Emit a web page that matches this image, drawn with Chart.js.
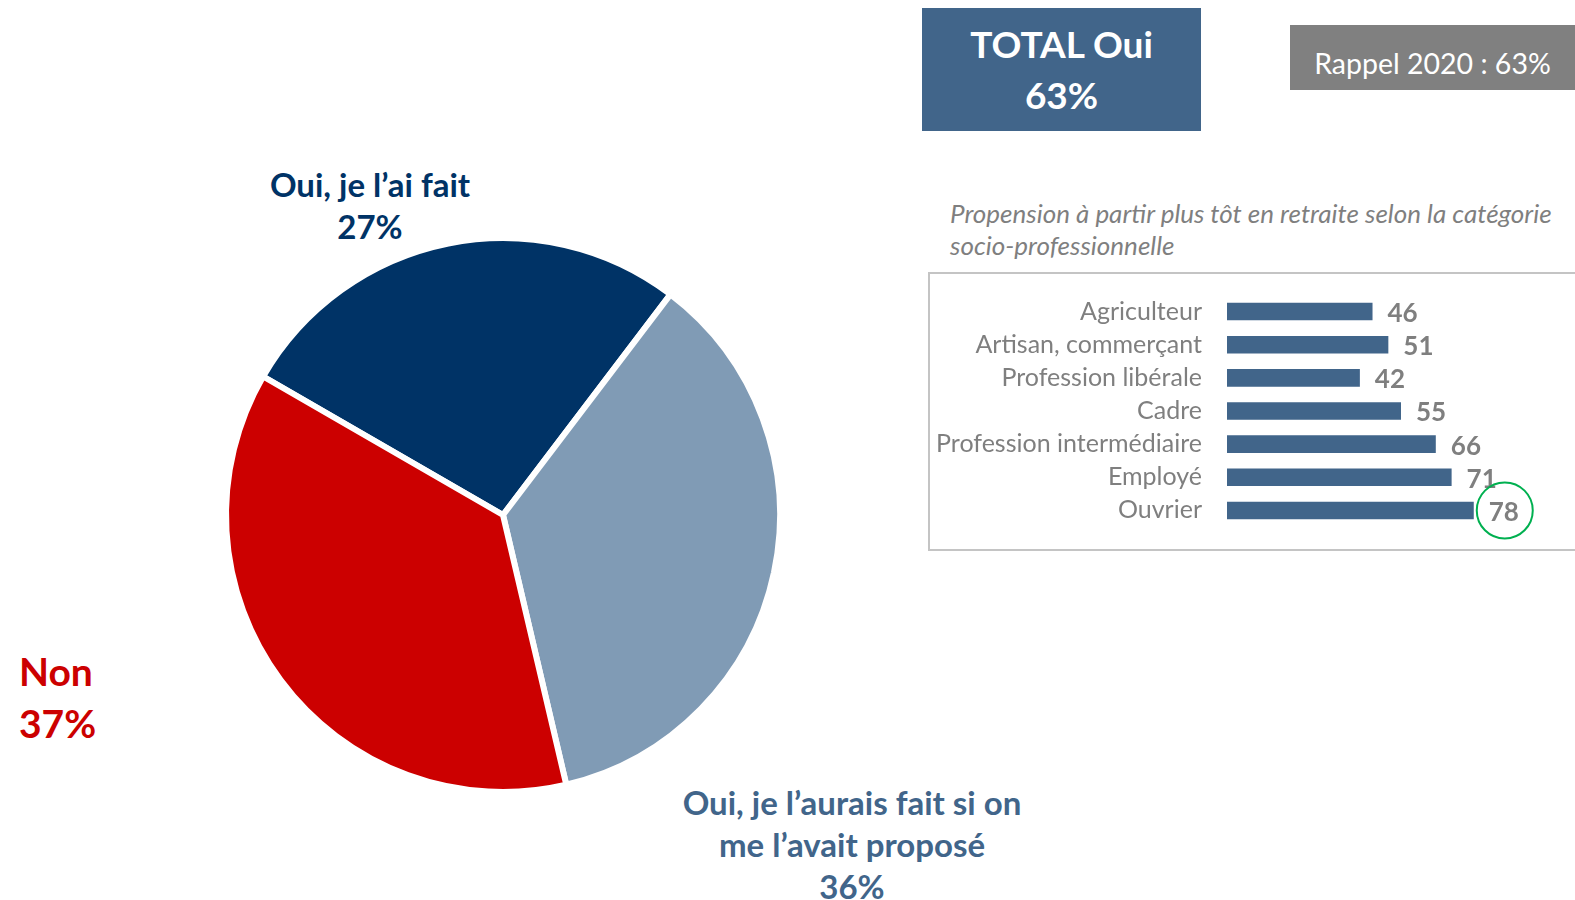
<!DOCTYPE html>
<html>
<head>
<meta charset="utf-8">
<script src="https://cdn.jsdelivr.net/npm/chart.js@4.4.0/dist/chart.umd.min.js"></script>
<style>
  body { margin: 0; width: 1575px; height: 900px; overflow: hidden; background: #fff; position: relative; font-family: Lato, sans-serif; }
  .abs { position: absolute; }
  .lbl { font-weight: bold; white-space: nowrap; }
  #total { left: 922px; top: 8px; width: 279px; height: 123px; background: #41658a; color: #fff;
           font-weight: bold; font-size: 37px; line-height: 51px; text-align: center; padding-top: 10px; box-sizing: border-box; }
  #rappel { left: 1290px; top: 25px; width: 285px; height: 65px; background: #808080; color: #fff;
            font-size: 28.5px; line-height: 76px; text-align: center; overflow: hidden; }
  #titre { left: 950px; top: 197px; color: #7f7f7f; font-style: italic; font-size: 26px; line-height: 32px; white-space: nowrap; }
  #cadre { left: 928px; top: 272px; width: 700px; height: 275px; border: 2px solid #c4c4c4; }
</style>
</head>
<body>

<div class="abs" id="total">TOTAL Oui<br>63%</div>
<div class="abs" id="rappel">Rappel 2020 : 63%</div>
<div class="abs" id="titre">Propension à partir plus tôt en retraite selon la catégorie<br>socio-professionnelle</div>
<div class="abs" id="cadre"></div>

<div class="abs lbl" style="left:220px;top:163px;width:300px;text-align:center;color:#003366;font-size:33px;line-height:42px;">Oui, je l’ai fait<br>27%</div>
<div class="abs lbl" style="left:19px;top:645px;color:#cc0000;font-size:39px;line-height:52px;">Non<br>37%</div>
<div class="abs lbl" style="left:652px;top:781px;width:400px;text-align:center;color:#41658a;font-size:33px;line-height:42px;">Oui, je l’aurais fait si on<br>me l’avait proposé<br>36%</div>

<canvas class="abs" id="pie" width="600" height="600" style="left:203px;top:215px;"></canvas>
<canvas class="abs" id="bars" width="645" height="277" style="left:930px;top:273px;"></canvas>

<script>
// camembert
var pieLabels = ['Oui, je l’ai fait', 'Oui, je l’aurais fait si on me l’avait proposé', 'Non'];
var pieValues = [27, 36, 37];
var pieColors = ['#003366', '#809bb5', '#cc0000'];

// barres CSP
var categories = ['Agriculteur', 'Artisan, commerçant', 'Profession libérale', 'Cadre',
                  'Profession intermédiaire', 'Employé', 'Ouvrier'];
var values = [46, 51, 42, 55, 66, 71, 78];
var highlight = 6; // Ouvrier, entouré en vert

new Chart(document.getElementById('pie'), {
    type: 'pie',
    data: {
        labels: pieLabels,
        datasets: [{
            data: pieValues,
            backgroundColor: pieColors,
            borderColor: '#ffffff',
            borderWidth: 6
        }]
    },
    options: {
        responsive: false,
        animation: false,
        rotation: -60,
        radius: 277,
        plugins: {
            legend: { display: false },
            tooltip: { enabled: false }
        }
    }
});

var valueLabels = {
    id: 'valueLabels',
    afterDatasetsDraw: function(chart) {
        var ctx = chart.ctx;
        var meta = chart.getDatasetMeta(0);
        ctx.save();
        ctx.font = 'bold 26px Lato';
        ctx.fillStyle = '#7f7f7f';
        ctx.textBaseline = 'middle';
        ctx.textAlign = 'left';
        meta.data.forEach(function(bar, i) {
            ctx.fillText(values[i], bar.x + 15, bar.y + 2);
        });
        var b = meta.data[highlight];
        ctx.strokeStyle = '#00b050';
        ctx.lineWidth = 2;
        ctx.beginPath();
        ctx.arc(b.x + 31, b.y, 28, 0, Math.PI * 2);
        ctx.stroke();
        ctx.restore();
    }
};

new Chart(document.getElementById('bars'), {
    type: 'bar',
    data: {
        labels: categories,
        datasets: [{
            data: values,
            backgroundColor: '#41658a',
            barPercentage: 0.53,
            categoryPercentage: 1
        }]
    },
    options: {
        indexAxis: 'y',
        responsive: false,
        animation: false,
        layout: { padding: { top: 22, bottom: 23, left: 0, right: 0 } },
        scales: {
            x: { display: false, min: 0, max: 110 },
            y: {
                grid: { display: false, drawTicks: false },
                border: { display: false },
                ticks: { color: '#7f7f7f', font: { family: 'Lato', size: 25 }, padding: 25 },
                afterFit: function(scale) {
                    scale.width = 297;
                    scale.paddingTop = 0;
                    scale.paddingBottom = 0;
                }
            }
        },
        plugins: {
            legend: { display: false },
            tooltip: { enabled: false }
        }
    },
    plugins: [valueLabels]
});
</script>
</body>
</html>
